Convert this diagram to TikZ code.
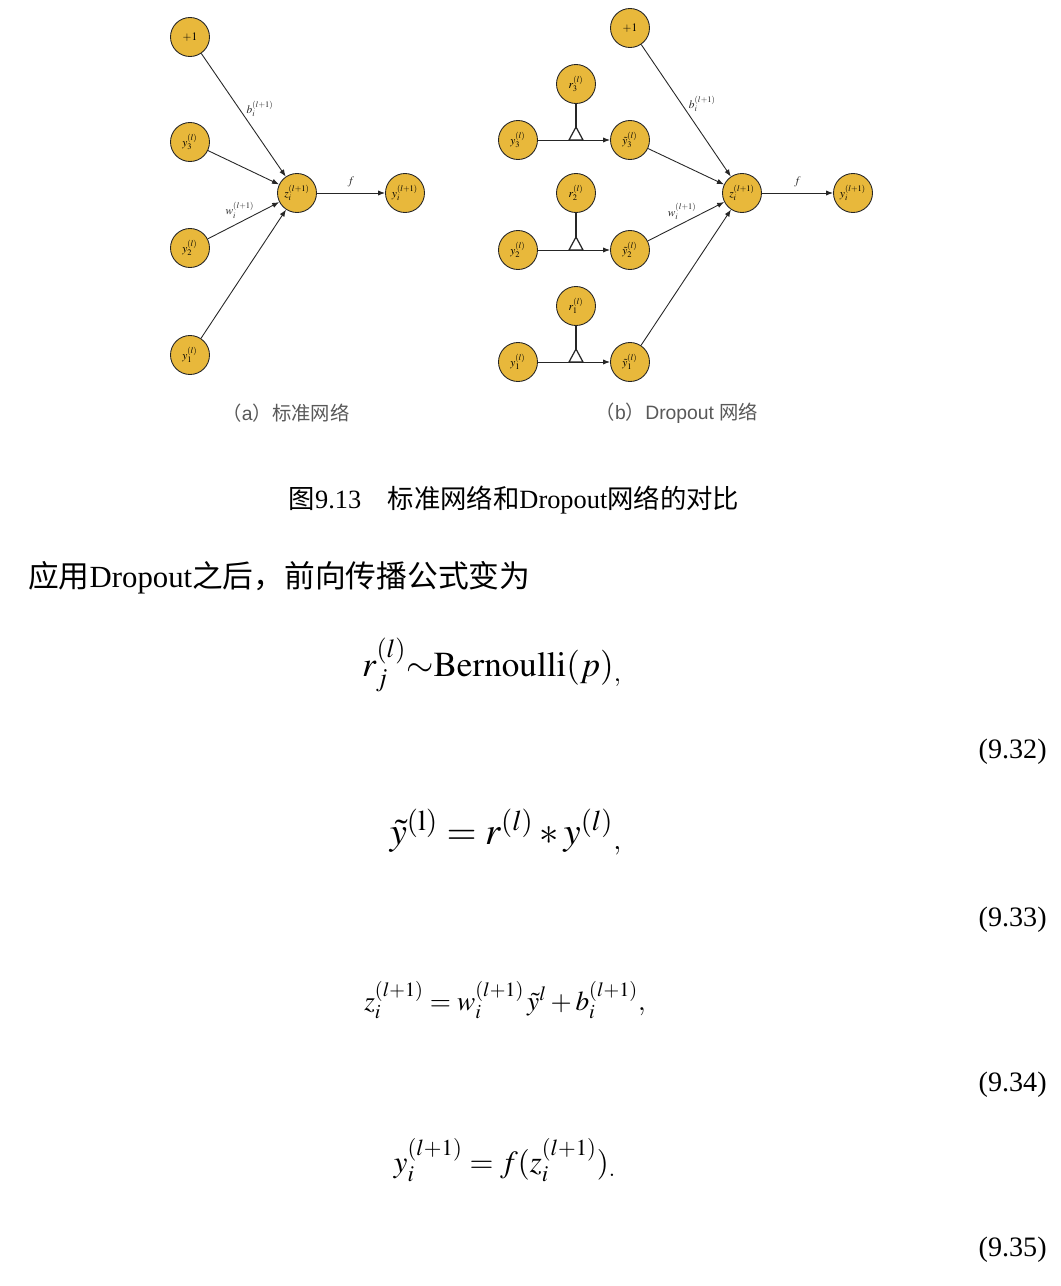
\documentclass[tikz,border=0pt]{standalone}
\usepackage{mathptmx}
\usepackage[no-math]{fontspec}
\setmainfont{Liberation Serif}
\setsansfont{Liberation Sans}
\newfontfamily\cjk{Noto Sans CJK SC}
\usepackage{tikz}
\definecolor{nodegold}{rgb}{0.91,0.72,0.23}
\definecolor{linedark}{rgb}{0.15,0.15,0.15}
\definecolor{captiongrey}{rgb}{0.35,0.35,0.35}
\usetikzlibrary{arrows.meta}
\usetikzlibrary{positioning}

\begin{document}
\begin{tikzpicture}[x=0.2mm,y=-0.2mm,
    neuron/.style={circle,draw=linedark,line width=0.5pt,fill=nodegold,minimum size=7.8mm,inner sep=0pt,font=\fontsize{6.5}{7}\selectfont},
    conn/.style={linedark,line width=0.5pt,-{Latex[length=4pt,width=3pt]}},
    wire/.style={linedark,line width=0.7pt},
    edgelabel/.style={font=\fontsize{6.5}{7}\selectfont,inner sep=1pt},
    eqn/.style={inner sep=0pt}]

    \fill[white] (0,0) rectangle (1060,1286);
    \useasboundingbox (0,0) rectangle (1060,1286);

    % (a) standard network
    \node [neuron] (topa) at (190,37) {$+1$};
    \node [neuron] (ya3) at (190,142) {$y_3^{(l)}$};
    \node [neuron] (ya2) at (190,248) {$y_2^{(l)}$};
    \node [neuron] (ya1) at (190,355) {$y_1^{(l)}$};
    \node [neuron] (za) at (297,193) {$z_i^{(l+1)}$};
    \node [neuron] (outa) at (405,193) {$y_i^{(l+1)}$};

    \draw [conn] (topa) -- node [edgelabel,pos=0.45,right=3pt] {$b_i^{(l+1)}$} (za);
    \draw [conn] (ya3) -- (za);
    \draw [conn] (ya2) -- node [edgelabel,pos=0.45,above=1pt] {$w_i^{(l+1)}$} (za);
    \draw [conn] (ya1) -- (za);
    \draw [conn] (za) -- node [edgelabel,above=2pt] {$f$} (outa);

    \node [font=\sffamily\fontsize{11}{12}\selectfont,text=captiongrey] (capa) at (286,413) {{\cjk （}a{\cjk ）标准网络}};

    % (b) dropout network
    \node [neuron] (topb) at (630,28) {$+1$};
    \node [neuron] (rb3) at (576,84) {$r_3^{(l)}$};
    \node [neuron] (yb3) at (518,140) {$y_3^{(l)}$};
    \node [neuron] (tb3) at (630,140) {$\tilde{y}_3^{(l)}$};
    \node [neuron] (rb2) at (576,193) {$r_2^{(l)}$};
    \node [neuron] (yb2) at (518,250) {$y_2^{(l)}$};
    \node [neuron] (tb2) at (630,250) {$\tilde{y}_2^{(l)}$};
    \node [neuron] (rb1) at (576,306) {$r_1^{(l)}$};
    \node [neuron] (yb1) at (518,362) {$y_1^{(l)}$};
    \node [neuron] (tb1) at (630,362) {$\tilde{y}_1^{(l)}$};
    \node [neuron] (zb) at (742,193) {$z_i^{(l+1)}$};
    \node [neuron] (outb) at (853,193) {$y_i^{(l+1)}$};

    % masks
    \coordinate (jb3) at (576,127);
    \coordinate (jb2) at (576,237);
    \coordinate (jb1) at (576,349);
    \draw [wire] (rb3) -- (jb3);
    \draw [wire] (rb2) -- (jb2);
    \draw [wire] (rb1) -- (jb1);
    \draw [wire] (jb3) -- ++(-7,13) -- ++(14,0) -- cycle;
    \draw [wire] (jb2) -- ++(-7,13) -- ++(14,0) -- cycle;
    \draw [wire] (jb1) -- ++(-7,13) -- ++(14,0) -- cycle;
    \draw [conn] (yb3) -- (tb3);
    \draw [conn] (yb2) -- (tb2);
    \draw [conn] (yb1) -- (tb1);

    \draw [conn] (topb) -- node [edgelabel,pos=0.45,right=3pt] {$b_i^{(l+1)}$} (zb);
    \draw [conn] (tb3) -- (zb);
    \draw [conn] (tb2) -- node [edgelabel,pos=0.45,above=1pt] {$w_i^{(l+1)}$} (zb);
    \draw [conn] (tb1) -- (zb);
    \draw [conn] (zb) -- node [edgelabel,above=2pt] {$f$} (outb);

    \node [font=\sffamily\fontsize{11}{12}\selectfont,text=captiongrey] (capb) at (677,413) {{\cjk （}b{\cjk ）}Dropout {\cjk 网络}};

    % caption and text
    \node [font=\fontsize{15}{17}\selectfont] (figcap) at (514,500) {{\cjk 图}9.13\quad{\cjk 标准网络和}Dropout{\cjk 网络的对比}};
    \node [font=\fontsize{17.5}{19}\selectfont,anchor=west] (intro) at (22,578) {{\cjk 应用}Dropout{\cjk 之后，前向传播公式变为}};

    % formulas
    \node [eqn,font=\fontsize{20}{22}\selectfont] (eqr) at (492,665) {$r_j^{(l)}{\sim}\mathrm{Bernoulli}(p)_{,}$};
    \node [eqn,font=\fontsize{16}{18}\selectfont,anchor=east] (nr) at (1047,752) {(9.32)};
    \node [eqn,font=\fontsize{22}{24}\selectfont] (eqy) at (506,832) {$\tilde{y}^{(\mathrm{l})}=r^{(l)}*y^{(l)}{}_{,}$};
    \node [eqn,font=\fontsize{16}{18}\selectfont,anchor=east] (ny) at (1047,920) {(9.33)};
    \node [eqn,font=\fontsize{15.5}{17}\selectfont] (eqz) at (505,1000) {$z_i^{(l+1)}=w_i^{(l+1)}\,\tilde{y}^{l}+b_i^{(l+1)},$};
    \node [eqn,font=\fontsize{16}{18}\selectfont,anchor=east] (nz) at (1047,1085) {(9.34)};
    \node [eqn,font=\fontsize{17.5}{19}\selectfont] (eqo) at (505,1160) {$y_i^{(l+1)}=f(z_i^{(l+1)})_{.}$};
    \node [eqn,font=\fontsize{16}{18}\selectfont,anchor=east] (no) at (1047,1250) {(9.35)};

\end{tikzpicture}
\end{document}
